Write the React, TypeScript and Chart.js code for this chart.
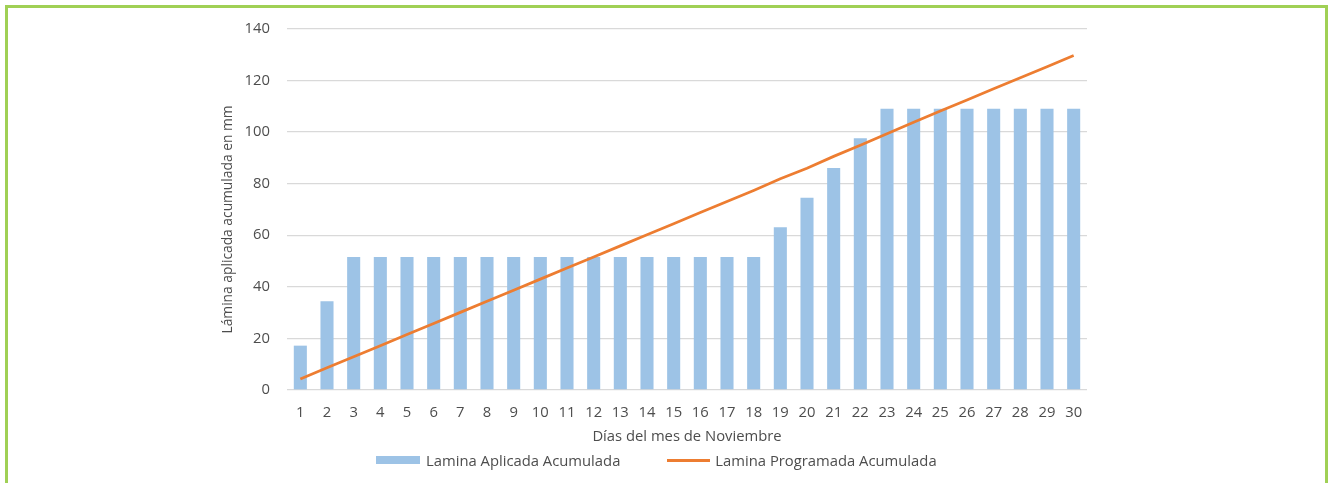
import React, { useEffect, useRef } from "react";
import { Chart, registerables } from "chart.js";

Chart.register(...registerables);

const days = ["1","2","3","4","5","6","7","8","9","10","11","12","13","14","15","16","17","18","19","20","21","22","23","24","25","26","27","28","29","30"];
const laminaAplicada = [17.2, 34.4, 51.6, 51.6, 51.6, 51.6, 51.6, 51.6, 51.6, 51.6, 51.6, 51.6, 51.6, 51.6, 51.6, 51.6, 51.6, 51.6, 63.1, 74.6, 86.1, 97.6, 109.1, 109.1, 109.1, 109.1, 109.1, 109.1, 109.1, 109.1];
const laminaProgramada = [4.3, 8.6, 12.9, 17.2, 21.5, 25.8, 30.1, 34.4, 38.7, 43.0, 47.3, 51.6, 55.9, 60.2, 64.5, 68.8, 73.1, 77.4, 81.9, 86.0, 90.6, 94.9, 99.4, 103.8, 108.2, 112.5, 116.8, 121.1, 125.4, 129.7];
const seriesNames = ["Lamina Aplicada Acumulada", "Lamina Programada Acumulada"];
const yTitle = "Lámina aplicada acumulada en mm";
const xTitle = "Días del mes de Noviembre";

const BLUE = "#9dc3e6";
const ORANGE = "#ed7d31";
const TEXT = "#4d4d4d";
const GRID = "#d9d9d9";
const FONT = "'Open Sans', sans-serif";
const FS = 14.8;
const FS_YTITLE = 13.8;

const yTitlePlugin = {
  id: "yTitlePlugin",
  afterDraw(chart: any) {
    const { ctx, chartArea } = chart;
    ctx.save();
    ctx.font = `${FS_YTITLE}px ${FONT}`;
    ctx.fillStyle = TEXT;
    ctx.textAlign = "center";
    ctx.textBaseline = "middle";
    ctx.translate(chartArea.left - 59, (chartArea.top + chartArea.bottom) / 2 + 10);
    ctx.rotate(-Math.PI / 2);
    ctx.fillText(yTitle, 0, 0);
    ctx.restore();
  },
};

export default function App() {
  const ref = useRef<HTMLCanvasElement | null>(null);

  useEffect(() => {
    if (!ref.current) return;
    const chart = new Chart(ref.current, {
      type: "bar",
      data: {
        labels: days,
        datasets: [
          {
            type: "line",
            label: seriesNames[1],
            data: laminaProgramada,
            borderColor: ORANGE,
            backgroundColor: ORANGE,
            borderWidth: 2.75,
            pointRadius: 0,
            tension: 0,
            order: 0,
          } as any,
          {
            type: "bar",
            label: seriesNames[0],
            data: laminaAplicada,
            backgroundColor: BLUE,
            borderWidth: 0,
            barPercentage: 0.49,
            categoryPercentage: 1,
            order: 1,
          },
        ],
      },
      options: {
        responsive: false,
        animation: false,
        layout: { padding: { left: 0, right: 246, top: 29, bottom: 37 } },
        plugins: {
          legend: { display: false },
          tooltip: { enabled: false },
        },
        scales: {
          x: {
            offset: true,
            grid: { display: false },
            border: { display: false },
            ticks: { color: TEXT, font: { family: FONT, size: FS }, padding: 6, maxRotation: 0, autoSkip: false },
            title: { display: true, text: xTitle, color: TEXT, font: { family: FONT, size: FS }, padding: { top: 0, bottom: 0 } },
            afterFit: (s: any) => { s.height = 56; },
          },
          y: {
            min: 0,
            max: 140,
            grid: { color: GRID, lineWidth: 1.3, drawTicks: false },
            border: { display: false },
            ticks: { stepSize: 20, color: TEXT, font: { family: FONT, size: FS }, padding: 17 },
            afterFit: (s: any) => { s.width = 287; },
          },
        },
      },
      plugins: [yTitlePlugin],
    });
    return () => chart.destroy();
  }, []);

  return (
    <div>
      <canvas
        ref={ref}
        width={1333}
        height={483}
        style={{ position: "absolute", left: 0, top: 0, width: 1333, height: 483, display: "block" }}
      />
      <div
        style={{
          position: "absolute",
          left: 5,
          top: 5,
          width: 1323,
          height: 478,
          boxSizing: "border-box",
          border: "3px solid #a0d055",
          borderBottom: "none",
          pointerEvents: "none",
        }}
      />
      <div
        style={{
          position: "absolute",
          left: 376,
          top: 450,
          height: 20,
          display: "flex",
          alignItems: "center",
          fontFamily: FONT,
          fontSize: FS,
          color: TEXT,
          whiteSpace: "nowrap",
        }}
      >
        <span style={{ display: "inline-block", width: 44, height: 8, background: BLUE, marginRight: 6 }} />
        <span>{seriesNames[0]}</span>
        <span style={{ display: "inline-block", width: 43, height: 3, background: ORANGE, marginLeft: 47, marginRight: 5 }} />
        <span>{seriesNames[1]}</span>
      </div>
    </div>
  );
}
